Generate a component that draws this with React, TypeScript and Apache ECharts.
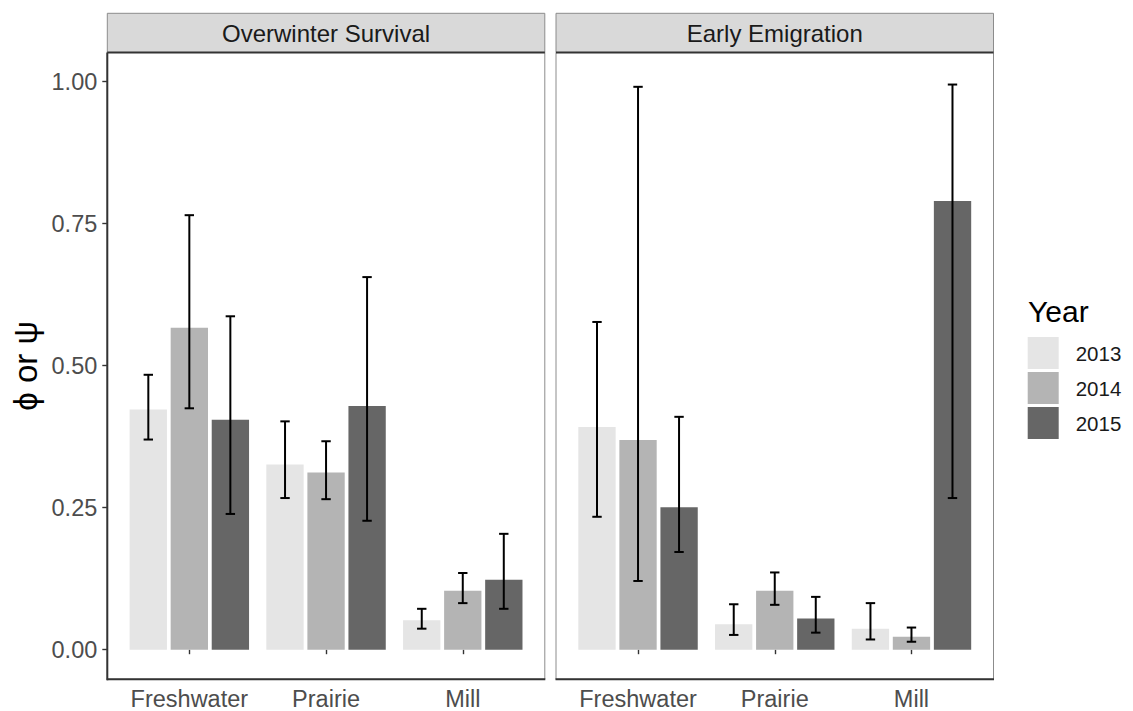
import React, { useEffect, useRef } from 'react';
import * as echarts from 'echarts';

// Categories, groups and facets
const sites = ['Freshwater', 'Prairie', 'Mill'];
const years = ['2013', '2014', '2015'];
const facets = ['Overwinter Survival', 'Early Emigration'];
const yTicks = [0, 0.25, 0.5, 0.75, 1];

// Overwinter survival (phi) estimates and 95% limits, per year
const owEst2013 = [0.423, 0.326, 0.052];
const owEst2014 = [0.567, 0.312, 0.104];
const owEst2015 = [0.405, 0.429, 0.123];
const owLow2013 = [0.370, 0.267, 0.037];
const owLow2014 = [0.425, 0.265, 0.082];
const owLow2015 = [0.239, 0.227, 0.072];
const owHigh2013 = [0.484, 0.402, 0.072];
const owHigh2014 = [0.765, 0.367, 0.135];
const owHigh2015 = [0.587, 0.656, 0.204];

// Early emigration (psi) estimates and 95% limits, per year
const emEst2013 = [0.392, 0.045, 0.037];
const emEst2014 = [0.369, 0.104, 0.023];
const emEst2015 = [0.251, 0.055, 0.790];
const emLow2013 = [0.234, 0.026, 0.018];
const emLow2014 = [0.121, 0.079, 0.014];
const emLow2015 = [0.172, 0.030, 0.267];
const emHigh2013 = [0.577, 0.080, 0.082];
const emHigh2014 = [0.991, 0.136, 0.039];
const emHigh2015 = [0.410, 0.093, 0.995];

const fills = ['#E5E5E5', '#B4B4B4', '#666666'];

const panelData = [
  {
    est: [owEst2013, owEst2014, owEst2015],
    low: [owLow2013, owLow2014, owLow2015],
    high: [owHigh2013, owHigh2014, owHigh2015],
  },
  {
    est: [emEst2013, emEst2014, emEst2015],
    low: [emLow2013, emLow2014, emLow2015],
    high: [emHigh2013, emHigh2014, emHigh2015],
  },
];

// Layout (px)
const FONT = 'Liberation Sans, Arial, Helvetica, sans-serif';
const PANEL_X = [107.3, 556];
const PANEL_W = 437.5;
const STRIP_TOP = 13.3;
const PANEL_TOP = 52.5;
const PANEL_BOTTOM = 679.3;
const PAD = (PANEL_W * 0.1) / 3.2;
const Y0 = 651; // pixel of value 0
const Y1 = 81.7; // pixel of value 1
const BORDER = '#8C8C8C';
const AXIS = '#333333';
const TICK_FONT = 23.5;

function buildOption() {
  const grids = PANEL_X.map((px) => ({
    left: px + PAD,
    width: PANEL_W - 2 * PAD,
    top: Y1,
    height: Y0 - Y1,
  }));

  const xAxes = PANEL_X.map((_, i) => ({
    type: 'category',
    gridIndex: i,
    data: sites,
    offset: PANEL_BOTTOM - Y0,
    axisLine: { show: false },
    axisTick: {
      show: true,
      alignWithLabel: true,
      length: 4.5,
      lineStyle: { color: AXIS, width: 1.4 },
    },
    axisLabel: {
      interval: 0,
      hideOverlap: false,
      fontFamily: FONT,
      fontSize: TICK_FONT,
      color: '#4D4D4D',
      margin: 9,
    },
    splitLine: { show: false },
  }));

  const yAxes = PANEL_X.map((_, i) => ({
    type: 'value',
    gridIndex: i,
    min: 0,
    max: 1,
    interval: 0.25,
    offset: PAD,
    axisLine: { show: false },
    axisTick: {
      show: i === 0,
      length: 5,
      lineStyle: { color: AXIS, width: 1.4 },
    },
    axisLabel: {
      show: i === 0,
      fontFamily: FONT,
      fontSize: TICK_FONT,
      color: '#4D4D4D',
      margin: 10,
      formatter: (v: number) => (yTicks.includes(v) ? v.toFixed(2) : ''),
    },
    splitLine: { show: false },
  }));

  const series: any[] = [];
  panelData.forEach((pd, p) => {
    years.forEach((yr, k) => {
      series.push({
        type: 'bar',
        name: yr,
        xAxisIndex: p,
        yAxisIndex: p,
        data: pd.est[k],
        barWidth: '27.3%',
        barGap: '10%',
        itemStyle: { color: fills[k] },
        z: 2,
      });
    });
    const errData: number[][] = [];
    years.forEach((_, k) => {
      sites.forEach((_, c) => {
        errData.push([c, pd.low[k][c], pd.high[k][c], k]);
      });
    });
    series.push({
      type: 'custom',
      name: 'ci' + p,
      xAxisIndex: p,
      yAxisIndex: p,
      data: errData,
      encode: { x: 0, y: [1, 2] },
      z: 5,
      renderItem: (params: any, api: any) => {
        const c = api.value(0);
        const lo = api.value(1);
        const hi = api.value(2);
        const slot = api.value(3);
        const band = api.size([1, 0])[0];
        const dx = (slot - 1) * band * 0.3;
        const pLo = api.coord([c, lo]);
        const pHi = api.coord([c, hi]);
        const x = pLo[0] + dx;
        const hw = 4.7;
        const style = { stroke: '#000000', lineWidth: 2 };
        return {
          type: 'group',
          children: [
            { type: 'line', shape: { x1: x, y1: pLo[1], x2: x, y2: pHi[1] }, style },
            { type: 'line', shape: { x1: x - hw, y1: pHi[1], x2: x + hw, y2: pHi[1] }, style },
            { type: 'line', shape: { x1: x - hw, y1: pLo[1], x2: x + hw, y2: pLo[1] }, style },
          ],
        };
      },
    });
  });

  const graphic: any[] = [];
  PANEL_X.forEach((px, i) => {
    graphic.push({
      type: 'rect',
      shape: { x: px, y: STRIP_TOP, width: PANEL_W, height: PANEL_TOP - STRIP_TOP },
      style: { fill: '#D9D9D9', stroke: BORDER, lineWidth: 1 },
      z: 1,
    });
    graphic.push({
      type: 'text',
      x: px + PANEL_W / 2,
      y: (STRIP_TOP + PANEL_TOP) / 2 + 1,
      style: {
        text: facets[i],
        fontFamily: FONT,
        fontSize: 24,
        fill: '#1A1A1A',
        align: 'center',
        verticalAlign: 'middle',
      },
      z: 2,
    });
    graphic.push({
      type: 'rect',
      shape: { x: px, y: PANEL_TOP, width: PANEL_W, height: PANEL_BOTTOM - PANEL_TOP },
      style: { fill: 'none', stroke: BORDER, lineWidth: 1 },
      z: 1,
    });
    graphic.push({
      type: 'line',
      shape: { x1: px, y1: PANEL_TOP, x2: px + PANEL_W, y2: PANEL_TOP },
      style: { stroke: AXIS, lineWidth: 2 },
      z: 3,
    });
    graphic.push({
      type: 'line',
      shape: { x1: px - 0.5, y1: PANEL_BOTTOM, x2: px + PANEL_W + 0.5, y2: PANEL_BOTTOM },
      style: { stroke: AXIS, lineWidth: 2 },
      z: 3,
    });
  });
  // left panel y axis line
  graphic.push({
    type: 'line',
    shape: { x1: PANEL_X[0], y1: PANEL_TOP, x2: PANEL_X[0], y2: PANEL_BOTTOM + 1 },
    style: { stroke: AXIS, lineWidth: 2 },
    z: 3,
  });
  // y axis title
  graphic.push({
    type: 'text',
    x: 25,
    y: (PANEL_TOP + PANEL_BOTTOM) / 2,
    rotation: Math.PI / 2,
    style: {
      text: 'ϕ or ψ',
      fontFamily: FONT,
      fontSize: 33,
      fill: '#000000',
      align: 'center',
      verticalAlign: 'middle',
    },
  });
  // legend title
  graphic.push({
    type: 'text',
    x: 1028,
    y: 311,
    style: {
      text: 'Year',
      fontFamily: FONT,
      fontSize: 30,
      fill: '#000000',
      align: 'left',
      verticalAlign: 'middle',
    },
  });

  return {
    animation: false,
    backgroundColor: '#FFFFFF',
    grid: grids,
    xAxis: xAxes,
    yAxis: yAxes,
    legend: {
      data: years,
      orient: 'vertical',
      left: 1027.7,
      top: 337,
      padding: 0,
      itemWidth: 31,
      itemHeight: 32,
      itemGap: 3,
      icon: 'rect',
      selectedMode: false,
      itemStyle: { borderWidth: 0 },
      textStyle: {
        fontFamily: FONT,
        fontSize: 20.5,
        color: '#1A1A1A',
        padding: [0, 0, 0, 12],
      },
    },
    series,
    graphic,
  };
}

export default function App() {
  const ref = useRef<HTMLDivElement>(null);
  useEffect(() => {
    if (!ref.current) return;
    const chart = echarts.init(ref.current, null, { renderer: 'svg' });
    chart.setOption(buildOption() as any);
    return () => chart.dispose();
  }, []);
  return (
    <div
      ref={ref}
      style={{ position: 'fixed', left: 0, top: 0, width: 1133, height: 711, background: '#fff' }}
    />
  );
}
